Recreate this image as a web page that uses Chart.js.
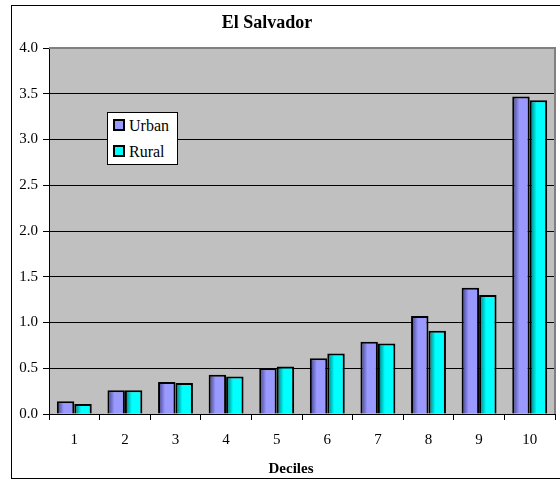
<!DOCTYPE html>
<html>
<head>
<meta charset="utf-8">
<script src="https://cdn.jsdelivr.net/npm/chart.js@4.4.0/dist/chart.umd.min.js"></script>
<style>
  html, body { margin: 0; padding: 0; background: #fff; overflow: hidden; }
  #wrap { position: relative; width: 560px; height: 481px; font-family: "Liberation Serif", "Times New Roman", serif; color: #000; }
  #title { position: absolute; left: 167px; width: 200px; top: 11px; text-align: center; font-size: 18px; font-weight: bold; line-height: 22px; }
  #xtitle { position: absolute; left: 241px; width: 100px; top: 459px; text-align: center; font-size: 15px; font-weight: bold; line-height: 18px; }
  #legend {
    position: absolute; left: 107px; top: 112px; width: 69px; height: 51px;
    background: #fff; border: 1px solid #000; font-size: 16px;
  }
  #legend div { position: absolute; left: 5px; height: 18px; line-height: 18px; white-space: nowrap; }
  #legend span.sw { display: inline-block; width: 8px; height: 8px; border: 2px solid #000; margin-right: 4px; vertical-align: 0px; }
</style>
</head>
<body>
<div id="wrap">
  <canvas id="chart" width="560" height="481"></canvas>
  <div id="title">El Salvador</div>
  <div id="xtitle">Deciles</div>
  <div id="legend"></div>
</div>
<script>
  const deciles = ["1", "2", "3", "4", "5", "6", "7", "8", "9", "10"];
  const urban = [0.14, 0.26, 0.35, 0.43, 0.50, 0.61, 0.79, 1.07, 1.38, 3.47];
  const rural = [0.11, 0.26, 0.34, 0.41, 0.52, 0.66, 0.77, 0.91, 1.30, 3.43];
  const seriesNames = ["Urban", "Rural"];
  const seriesColors = ["#9999FF", "#00FFFF"];
  const seriesDark = ["#3c3c80", "#007070"];

  const serif = "'Liberation Serif', 'Times New Roman', serif";
  const CAT_PCT = 0.69;

  // legend as real text
  const lg = document.getElementById("legend");
  seriesNames.forEach((n, i) => {
    const d = document.createElement("div");
    d.style.top = (i === 0 ? 4 : 30) + "px";
    d.innerHTML = `<span class="sw" style="background:${seriesColors[i]}"></span>${n}`;
    lg.appendChild(d);
  });

  // shaded fill for each bar, dark on the left edge like the original
  function barFill(dsIndex) {
    return (ctx) => {
      const chart = ctx.chart;
      const xs = chart.scales && chart.scales.x;
      if (!xs || ctx.dataIndex === undefined) return seriesColors[dsIndex];
      const center = xs.getPixelForValue(ctx.dataIndex);
      const w = xs.width / deciles.length * CAT_PCT / 2;
      const left = dsIndex === 0 ? center - w : center;
      if (!isFinite(left) || !isFinite(w) || w <= 0) return seriesColors[dsIndex];
      const g = chart.ctx.createLinearGradient(left, 0, left + w, 0);
      g.addColorStop(0, seriesDark[dsIndex]);
      g.addColorStop(0.4, seriesColors[dsIndex]);
      g.addColorStop(0.85, seriesColors[dsIndex]);
      g.addColorStop(1, seriesDark[dsIndex]);
      return g;
    };
  }

  const frame = {
    id: "frame",
    beforeDraw(chart) {
      const { ctx, chartArea: a } = chart;
      ctx.save();
      ctx.fillStyle = "#C0C0C0";
      ctx.fillRect(a.left, a.top, a.right - a.left, a.bottom - a.top);
      ctx.restore();
    },
    afterDraw(chart) {
      const { ctx, chartArea: a } = chart;
      ctx.save();
      ctx.strokeStyle = "#808080";
      ctx.lineWidth = 2;
      ctx.beginPath();
      ctx.moveTo(a.left, a.top);
      ctx.lineTo(a.right, a.top);
      ctx.lineTo(a.right, a.bottom);
      ctx.stroke();
      ctx.strokeStyle = "#000";
      ctx.lineWidth = 1;
      ctx.strokeRect(11.5, 5.5, 560, 473);
      ctx.restore();
    }
  };

  new Chart(document.getElementById("chart").getContext("2d"), {
    type: "bar",
    data: {
      labels: deciles,
      datasets: [
        { label: seriesNames[0], data: urban, backgroundColor: barFill(0), borderColor: "#000", borderWidth: 2 },
        { label: seriesNames[1], data: rural, backgroundColor: barFill(1), borderColor: "#000", borderWidth: 2 }
      ]
    },
    options: {
      responsive: false,
      animation: false,
      layout: { padding: { left: 12, right: 5, top: 48, bottom: 0 } },
      datasets: { bar: { barPercentage: 1, categoryPercentage: CAT_PCT } },
      plugins: {
        legend: { display: false },
        tooltip: { enabled: false },
        title: { display: false }
      },
      scales: {
        x: {
          grid: { display: true, drawOnChartArea: false, drawTicks: true, tickLength: 6, color: "#000", offset: true },
          border: { color: "#000", width: 1 },
          ticks: { color: "#000", font: { family: serif, size: 15 }, padding: 11 },
          afterFit(s) { s.height = 67; }
        },
        y: {
          min: 0, max: 4,
          ticks: { stepSize: 0.5, color: "#000", font: { family: serif, size: 15 }, padding: 5, callback: v => v.toFixed(1) },
          grid: { color: "#000", tickLength: 6, lineWidth: 1 },
          border: { color: "#000", width: 1 },
          afterFit(s) { s.width = 37; }
        }
      }
    },
    plugins: [frame]
  });
</script>
</body>
</html>
